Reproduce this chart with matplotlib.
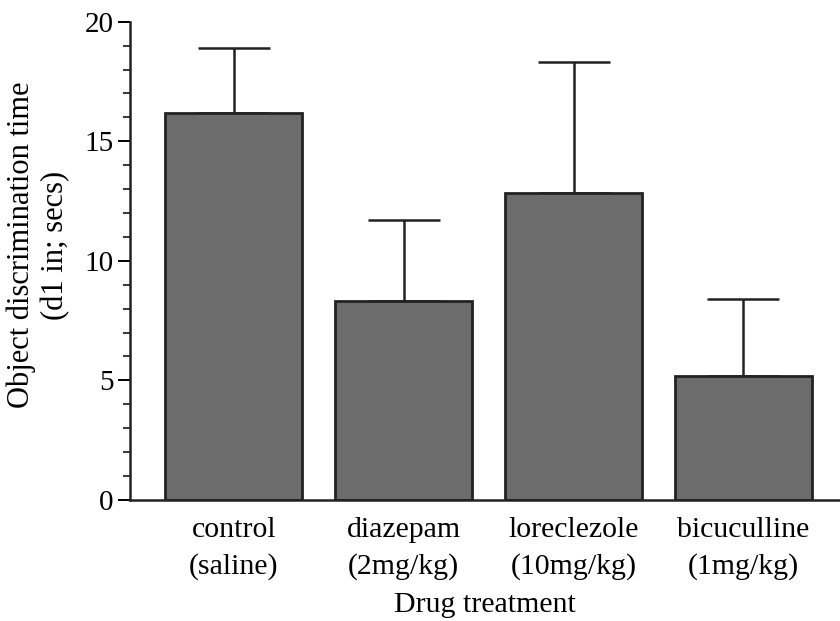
import matplotlib.pyplot as plt
from matplotlib.ticker import MultipleLocator

grupos = ["control\n(saline)", "diazepam\n(2mg/kg)", "loreclezole\n(10mg/kg)", "bicuculline\n(1mg/kg)"]
medias = [16.2, 8.3, 12.85, 5.2]
erros = [2.7, 3.4, 5.45, 3.2]

plt.rcParams['font.family'] = ['Liberation Serif', 'DejaVu Serif']

fig = plt.figure(figsize=(8.4, 6.21), dpi=100)
ax = fig.add_axes([0.155, 0.195, 0.845, 0.77])

pos = list(range(len(grupos)))
ax.bar(pos, medias, width=0.806, color='#6c6c6c', edgecolor='#222222', linewidth=2, zorder=2)
ax.errorbar(pos, medias, yerr=[[0] * len(erros), erros], fmt='none', ecolor='#222222',
            elinewidth=1.8, capsize=26, capthick=1.8, zorder=1)

ax.set_xlim(-0.609, 3.568)
ax.set_ylim(0, 20)
ax.yaxis.set_major_locator(MultipleLocator(5))
ax.yaxis.set_minor_locator(MultipleLocator(1))
ax.tick_params(axis='y', which='major', length=9, width=1.4, labelsize=21, pad=3)
ax.tick_params(axis='y', which='minor', length=5, width=1.1)
ax.tick_params(axis='x', length=0, labelsize=21.5, pad=12)
ax.set_xticks(pos)
ax.set_xticklabels(grupos, linespacing=1.5)

for lado in ['top', 'right']:
    ax.spines[lado].set_visible(False)
for lado in ['left', 'bottom']:
    ax.spines[lado].set_linewidth(1.8)
    ax.spines[lado].set_color('#222222')

ax.set_ylabel("Object discrimination time\n(d1 in; secs)", fontsize=22, linespacing=1.2)
ax.yaxis.set_label_coords(-0.085, 0.533)
ax.set_xlabel("Drug treatment", fontsize=21.5, labelpad=9)

fig.savefig("out.png", dpi=100)
plt.close(fig)
